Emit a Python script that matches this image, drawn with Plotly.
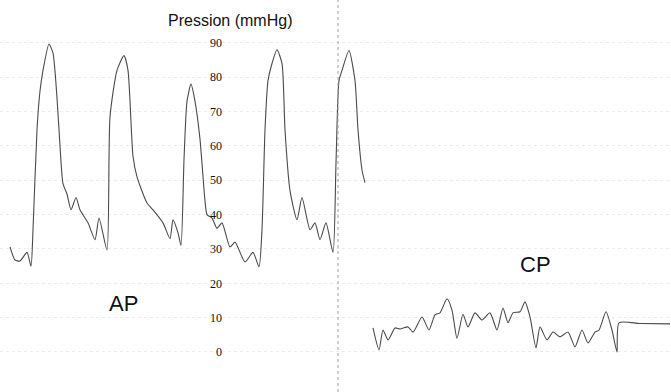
import plotly.graph_objects as go

# Arterial pressure (AP) trace: time (samples) and pressure (mmHg)
t_ap = [10, 15, 20, 27, 31, 33, 37, 40, 43, 49, 53, 57, 60, 63, 67, 71, 76, 80, 88, 95, 99, 107,
        110, 117, 124, 128, 133, 137, 147, 153, 163, 170, 173, 178, 181,
        184, 187, 191, 195, 200, 205, 207, 212, 217, 222, 230, 235, 245, 253, 259,
        262, 265, 268, 272, 277, 282, 285, 290, 297, 302, 310, 315, 320, 326, 333,
        336, 339, 342, 349, 355, 358, 362, 365]
p_ap = [30.6, 26.8, 26.5, 29, 25, 35.6, 64.7, 76, 82, 89.7, 87, 74, 60, 49, 46, 41.4, 45, 41.4, 37.6, 32.7, 39, 29.7,
        68.5, 82, 86.3, 82, 57, 51, 43.4, 41.4, 37.6, 33, 38.5, 34.7, 31,
        56, 73, 78, 73, 62, 44, 40, 39, 36, 37.6, 30.6, 32, 26.2, 29, 24.8,
        35.6, 64.7, 79, 84, 88, 84, 64.7, 47, 38.5, 45, 35.6, 37.6, 32.7, 37.6, 29,
        55, 79, 82, 87.8, 79, 64.7, 53, 49.3]

# Central pressure (CP) trace
t_cp = [373, 379, 383, 388, 395, 400, 408, 413, 422, 429, 435, 440, 447, 452, 457, 463, 468, 475,
        482, 490, 497, 503, 508, 513, 520, 525, 530, 536, 540, 547, 553, 560, 568, 575, 582,
        588, 595, 599, 606, 612, 617, 619, 640, 670]
p_cp = [7, 0.6, 6.4, 3.5, 7, 6.7, 7.3, 5.8, 10.2, 6.4, 10.8, 11.4, 15.5, 12.2, 4, 11, 7.3, 11.4,
        9.3, 11.4, 6.4, 12.8, 8.5, 11.4, 11.7, 14.6, 10.2, 1.2, 7.3, 3.5, 5.8, 4.4, 5.8, 1.5, 6.4,
        2.6, 5.8, 6.4, 11.7, 6.4, 0, 8.5, 8.3, 8.2]

y_ticks = [0, 10, 20, 30, 40, 50, 60, 70, 80, 90]
sep_t = 338

fig = go.Figure()
fig.add_trace(go.Scatter(x=t_ap, y=p_ap, mode="lines",
                         line=dict(color="#4a4a4a", width=1.1, shape="spline", smoothing=0.6),
                         hoverinfo="skip", showlegend=False))
fig.add_trace(go.Scatter(x=t_cp, y=p_cp, mode="lines",
                         line=dict(color="#4a4a4a", width=1.1, shape="spline", smoothing=0.6),
                         hoverinfo="skip", showlegend=False))

fig.add_shape(type="line", xref="x", yref="paper", x0=sep_t, x1=sep_t, y0=0, y1=1,
              line=dict(color="#a0a0a0", width=1, dash="dot"))

fig.add_annotation(x=123, y=14, xref="x", yref="y", text="AP", showarrow=False,
                   font=dict(family="Liberation Sans, Arial", size=22, color="#111"))
fig.add_annotation(x=535, y=25.5, xref="x", yref="y", text="CP", showarrow=False,
                   font=dict(family="Liberation Sans, Arial", size=22, color="#111"))
fig.add_annotation(x=230, y=96.5, xref="x", yref="y", text="Pression (mmHg)", showarrow=False,
                   font=dict(family="Liberation Sans, Arial", size=16, color="#111"))

fig.update_layout(
    width=671, height=392,
    margin=dict(l=0, r=0, t=0, b=0),
    paper_bgcolor="white", plot_bgcolor="white",
    xaxis=dict(range=[0, 671], visible=False),
    yaxis=dict(range=[-11.65, 102.5], anchor="free", position=0.331,
               tickvals=y_ticks, ticktext=[str(v) for v in y_ticks],
               tickfont=dict(family="Liberation Serif, Times New Roman", size=12, color="#111"),
               showline=False, zeroline=False, ticks="",
               showgrid=True, gridcolor="#ececec", griddash="dot", gridwidth=1),
)

fig.write_html("out.html", config={"displayModeBar": False})

# remove the default page margin so the figure sits at the window origin
with open("out.html", encoding="utf-8") as f:
    html = f.read()
html = html.replace("<head>", "<head><style>html,body{margin:0;padding:0;overflow:hidden}</style>", 1)
with open("out.html", "w", encoding="utf-8") as f:
    f.write(html)
